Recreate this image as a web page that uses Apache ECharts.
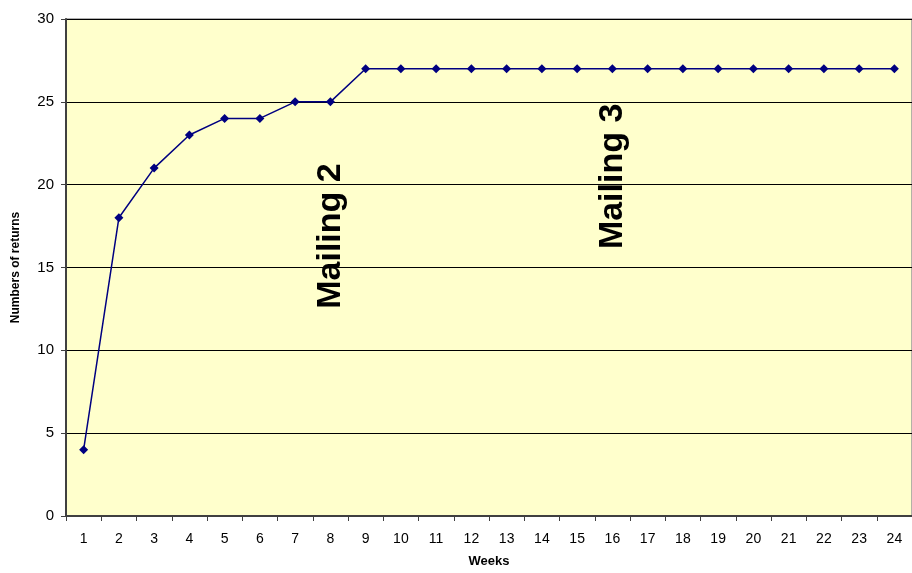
<!DOCTYPE html>
<html><head><meta charset="utf-8">
<script src="https://cdn.jsdelivr.net/npm/echarts@6/dist/echarts.min.js"></script>
<style>html,body{margin:0;padding:0;background:#fff;width:100%;height:100%;overflow:hidden}#c{width:100vw;height:100vh}</style>
</head><body><div id="c"></div>
<script>
var weeks = ['1','2','3','4','5','6','7','8','9','10','11','12','13','14','15','16','17','18','19','20','21','22','23','24'];
var returns = [4,18,21,23,24,24,25,25,27,27,27,27,27,27,27,27,27,27,27,27,27,27,27,27];
var notes = [
  {text:'Mailing 2', week:'8', value:16.9},
  {text:'Mailing 3', week:'16', value:20.5}
];
var chart = echarts.init(document.getElementById('c'));
var F = 'Liberation Sans, Arial, sans-serif';
chart.setOption({
  animation:false,
  grid:{left:66,right:0,top:19,bottom:53,show:true,backgroundColor:'#FFFFCC',borderColor:'#999',borderWidth:1.5},
  xAxis:{type:'category',data:weeks,boundaryGap:true,
    name:'Weeks',nameLocation:'middle',nameGap:39,
    nameTextStyle:{fontFamily:F,fontWeight:'bold',fontSize:13,color:'#000'},
    axisLine:{lineStyle:{color:'#404040',width:2}},
    axisTick:{show:true,alignWithLabel:false,length:5,lineStyle:{color:'#404040'}},
    axisLabel:{fontFamily:F,fontSize:14,color:'#000',margin:16,interval:0},
    splitLine:{show:false}},
  yAxis:{type:'value',min:0,max:30,interval:5,
    name:'Numbers of returns',nameLocation:'middle',nameGap:44,nameRotate:90,
    nameTextStyle:{fontFamily:F,fontWeight:'bold',fontSize:12,color:'#000'},
    axisLine:{show:true,lineStyle:{color:'#404040',width:2}},
    axisTick:{show:true,length:5,lineStyle:{color:'#404040'}},
    axisLabel:{fontFamily:F,fontSize:15,color:'#000',margin:12},
    splitLine:{show:true,lineStyle:{color:'#000',width:1}}},
  series:[{type:'line',data:returns,symbol:'diamond',symbolSize:9,
    lineStyle:{color:'#000080',width:1.5},itemStyle:{color:'#000080'}}]
});
var g = notes.map(function(n){
  var p = chart.convertToPixel({gridIndex:0},[n.week,n.value]);
  return {type:'text',x:p[0],y:p[1],rotation:Math.PI/2,
    style:{text:n.text,font:'bold 34px '+F,fill:'#000',align:'center',verticalAlign:'middle'}};
});
chart.setOption({graphic:g});
</script></body></html>
